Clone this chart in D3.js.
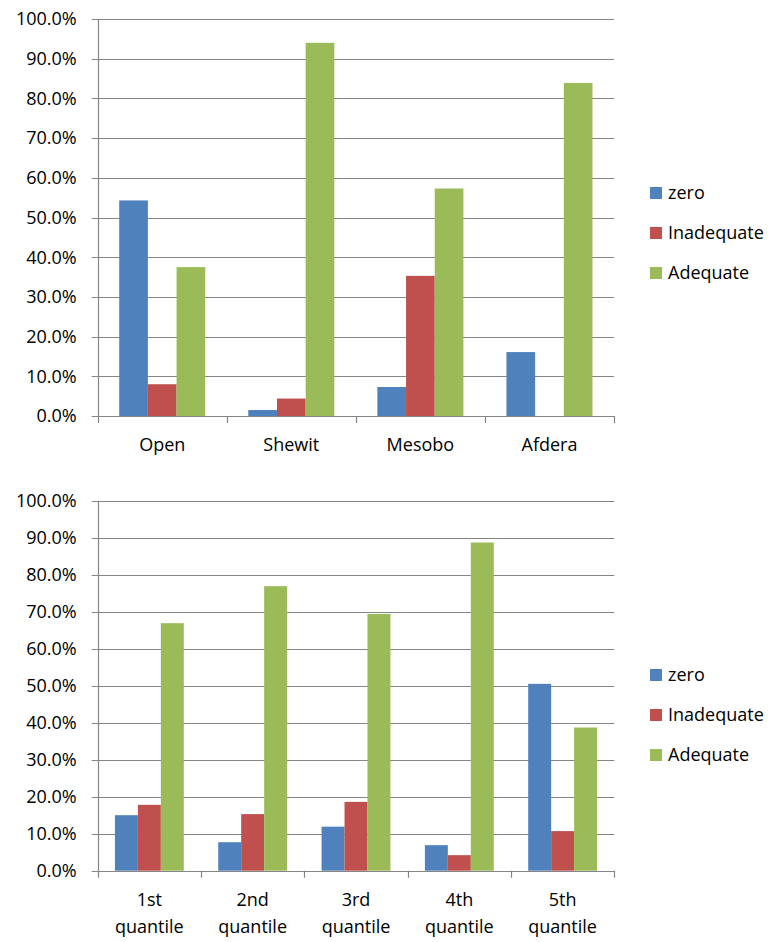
<!DOCTYPE html>
<html>
<head>
<meta charset="utf-8">
<script src="https://cdn.jsdelivr.net/npm/d3@7"></script>
<style>
  html, body { margin: 0; padding: 0; background: #fff; }
  svg text { font-family: "Open Sans", "Liberation Sans", sans-serif; fill: #000; }
</style>
</head>
<body>
<svg id="chart" width="774" height="942"></svg>
<script>
const seriesNames = ["zero", "Inadequate", "Adequate"];
const seriesColors = ["#4F81BD", "#C0504D", "#9BBB59"];

const topCategories = ["Open", "Shewit", "Mesobo", "Afdera"];
const topZero       = [54.3, 1.5, 7.3, 16.1];
const topInadequate = [8.0, 4.4, 35.3, 0];
const topAdequate   = [37.5, 94.0, 57.3, 83.9];

const bottomCategories = [["1st", "quantile"], ["2nd", "quantile"], ["3rd", "quantile"], ["4th", "quantile"], ["5th", "quantile"]];
const bottomZero       = [15.0, 7.7, 11.9, 6.9, 50.5];
const bottomInadequate = [17.8, 15.3, 18.6, 4.2, 10.7];
const bottomAdequate   = [66.9, 76.9, 69.4, 88.7, 38.7];

const yTicks = [0, 10, 20, 30, 40, 50, 60, 70, 80, 90, 100];

const svg = d3.select("#chart");
const gridColor = "#868686";
const fs = 18;

function drawChart(cfg) {
  const { categories, series, left, right, top, bottom, legendTop } = cfg;
  const g = svg.append("g");
  const y = d3.scaleLinear().domain([0, 100]).range([bottom, top]);
  const x = d3.scaleBand().domain(d3.range(categories.length)).range([left, right]).paddingInner(0).paddingOuter(0);
  const bw = x.bandwidth();
  const barW = bw / 4.5;
  const xs = d3.scaleBand().domain(d3.range(series.length)).range([0, barW * 3]);

  // gridlines
  g.selectAll("line.grid").data(yTicks).join("line")
    .attr("x1", left - 6).attr("x2", right)
    .attr("y1", d => Math.round(y(d)) + 0.5).attr("y2", d => Math.round(y(d)) + 0.5)
    .attr("stroke", gridColor).attr("stroke-width", 1.2);

  // y labels
  g.selectAll("text.ylab").data(yTicks).join("text")
    .attr("x", left - 21).attr("y", d => y(d))
    .attr("dy", "0.35em").attr("text-anchor", "end")
    .attr("font-size", fs)
    .text(d => d.toFixed(1) + "%");

  // bars
  series.forEach((vals, si) => {
    g.selectAll("rect.s" + si).data(vals).join("rect")
      .attr("x", (d, i) => x(i) + barW * 0.75 + xs(si))
      .attr("width", barW)
      .attr("y", d => y(d))
      .attr("height", d => y(0) - y(d))
      .attr("fill", seriesColors[si]);
  });

  // y axis line
  g.append("line").attr("x1", Math.round(left) + 0.5).attr("x2", Math.round(left) + 0.5)
    .attr("y1", top).attr("y2", bottom + 7).attr("stroke", gridColor).attr("stroke-width", 1.2);
  // x axis line
  g.append("line").attr("x1", left).attr("x2", right)
    .attr("y1", Math.round(y(0)) + 0.5).attr("y2", Math.round(y(0)) + 0.5)
    .attr("stroke", gridColor).attr("stroke-width", 1.2);
  // x ticks
  const bounds = d3.range(categories.length + 1).map(i => left + i * bw);
  g.selectAll("line.xt").data(bounds.slice(1)).join("line")
    .attr("x1", d => Math.round(d) + 0.5).attr("x2", d => Math.round(d) + 0.5)
    .attr("y1", bottom).attr("y2", bottom + 7)
    .attr("stroke", gridColor).attr("stroke-width", 1.2);

  // category labels
  categories.forEach((c, i) => {
    const lines = Array.isArray(c) ? c : [c];
    const t = g.append("text").attr("text-anchor", "middle").attr("font-size", fs);
    lines.forEach((ln, li) => {
      t.append("tspan").attr("x", x(i) + bw / 2).attr("y", bottom + 35 + li * 27).text(ln);
    });
  });

  // legend
  seriesNames.forEach((n, si) => {
    const cy = legendTop + si * 40;
    g.append("rect").attr("x", 650).attr("y", cy - 6).attr("width", 12).attr("height", 12).attr("fill", seriesColors[si]);
    g.append("text").attr("x", 668).attr("y", cy).attr("dy", "0.35em").attr("font-size", fs).text(n);
  });
}

drawChart({
  categories: topCategories,
  series: [topZero, topInadequate, topAdequate],
  left: 97.7, right: 614, top: 19, bottom: 416, legendTop: 193
});

drawChart({
  categories: bottomCategories,
  series: [bottomZero, bottomInadequate, bottomAdequate],
  left: 97.7, right: 614.3, top: 500.7, bottom: 870.7, legendTop: 675
});
</script>
</body>
</html>
